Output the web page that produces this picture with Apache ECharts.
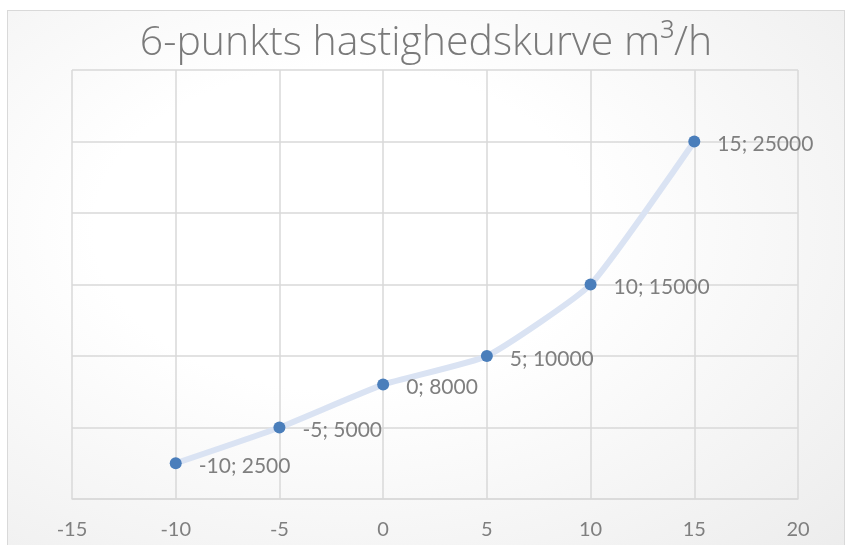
<!DOCTYPE html>
<html>
<head>
<meta charset="utf-8">
<script src="https://cdn.jsdelivr.net/npm/echarts@6/dist/echarts.min.js"></script>
<style>
  html, body { margin: 0; padding: 0; background: #fff; }
  #frame {
    position: absolute; left: 7px; top: 10px; width: 836px; height: 545px;
    border: 1.5px solid #d9d9d9;
    background: radial-gradient(ellipse at 40% 40%, #ffffff 35%, #ececec 100%);
  }
  #chart { position: absolute; left: 0; top: 0; width: 852px; height: 545px; }
</style>
</head>
<body>
<div id="frame"></div>
<div id="chart"></div>
<script>
// hastighed (x) og flow m3/h (y)
const xValues = [-10, -5, 0, 5, 10, 15];
const yValues = [2500, 5000, 8000, 10000, 15000, 25000];
const points = xValues.map((x, i) => [x, yValues[i]]);

const chart = echarts.init(document.getElementById('chart'));
const gray = '#7f7f7f';

chart.setOption({
  backgroundColor: 'transparent',
  title: {
    text: '6-punkts hastighedskurve m³/h',
    left: 'center',
    top: 18,
    textStyle: { fontFamily: 'Open Sans', fontWeight: 300, fontSize: 41, color: '#7a7a7a' }
  },
  grid: { left: 72, right: 54, top: 70, bottom: 46 },
  xAxis: {
    type: 'value',
    min: -15, max: 20, interval: 5,
    axisLine: { show: true, lineStyle: { color: '#d9d9d9', width: 1.5 } },
    axisTick: { show: false },
    axisLabel: { color: gray, fontFamily: 'Lato', fontSize: 20, margin: 21 },
    splitLine: { lineStyle: { color: '#d9d9d9', width: 1.5 } }
  },
  yAxis: {
    type: 'value',
    min: 0, max: 30000, interval: 5000,
    axisLine: { show: false },
    axisTick: { show: false },
    axisLabel: { show: false },
    splitLine: { lineStyle: { color: '#d9d9d9', width: 1.5 } }
  },
  series: [{
    type: 'line',
    data: points,
    smooth: 0.15,
    symbol: 'circle',
    symbolSize: 12,
    itemStyle: { color: '#4a7ebb' },
    lineStyle: { color: '#dae3f3', width: 6 },
    label: {
      show: true,
      position: 'right',
      distance: 17,
      offset: [0, 3],
      color: gray,
      fontFamily: 'Lato',
      fontSize: 21,
      formatter: p => p.value[0] + '; ' + p.value[1]
    }
  }]
});
</script>
</body>
</html>
